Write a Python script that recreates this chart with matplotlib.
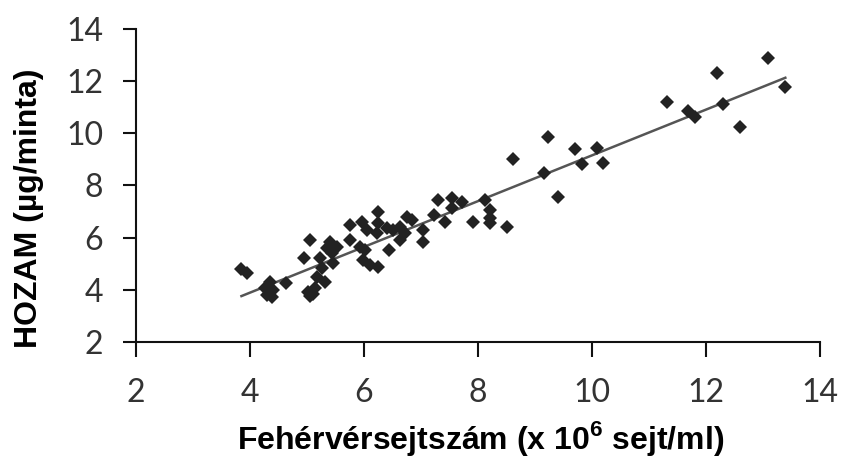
import matplotlib
matplotlib.use("Agg")
import matplotlib.pyplot as plt

plt.rcParams["mathtext.fontset"] = "custom"
plt.rcParams["mathtext.rm"] = "Liberation Sans:bold"
plt.rcParams["mathtext.bf"] = "Liberation Sans:bold"

# white cell count (x 10^6 / ml) vs. yield (ug / sample)
cells = [3.85, 3.95, 4.26, 4.35, 4.40, 4.38, 4.30, 4.64, 4.94, 5.05,
         5.02, 5.05, 5.11, 5.14, 5.17, 5.26, 5.23, 5.32, 5.35, 5.40,
         5.43, 5.46, 5.52, 5.75, 5.75, 5.96, 5.93, 6.05, 5.99, 6.11,
         6.25, 6.02, 6.25, 6.25, 6.22, 6.40, 6.51, 6.63, 6.43, 6.75,
         6.84, 6.72, 6.63, 7.04, 7.04, 7.22, 7.30, 7.42, 7.54, 7.54,
         7.71, 7.92, 8.12, 8.21, 8.21, 8.21, 8.50, 8.62, 9.15, 9.23,
         9.41, 9.70, 9.82, 10.08, 10.20, 11.31, 11.69, 11.81, 12.19, 12.30,
         12.60, 13.09, 13.39]
yields = [4.80, 4.65, 4.07, 4.30, 3.99, 3.73, 3.80, 4.26, 5.21, 5.91,
          3.92, 3.75, 3.85, 4.06, 4.50, 4.83, 5.21, 4.31, 5.59, 5.85,
          5.40, 5.02, 5.65, 6.49, 5.91, 6.61, 5.65, 6.29, 5.14, 4.95,
          4.89, 5.53, 7.00, 6.55, 6.17, 6.36, 6.29, 6.42, 5.53, 6.80,
          6.68, 6.17, 5.91, 6.29, 5.85, 6.87, 7.44, 6.61, 7.51, 7.13,
          7.38, 6.61, 7.44, 7.06, 6.74, 6.55, 6.40, 9.01, 8.47, 9.87,
          7.57, 9.39, 8.83, 9.43, 8.85, 11.21, 10.87, 10.61, 12.33, 11.13,
          10.26, 12.88, 11.77]

# fitted line end points
fit_x = [3.85, 13.39]
fit_y = [3.76, 12.13]

ticks = [2, 4, 6, 8, 10, 12, 14]

fig = plt.figure(figsize=(8.42, 4.58), dpi=100)
ax = fig.add_axes([0.1615, 0.2533, 0.8125, 0.6834])

ax.plot(fit_x, fit_y, color="#555555", lw=1.8, zorder=2)
ax.plot(cells, yields, "D", color="#222222", ms=7, mew=0, zorder=3)

ax.set_xlim(2, 14)
ax.set_ylim(2, 14)
ax.set_xticks(ticks)
ax.set_yticks(ticks)

for s in ["top", "right"]:
    ax.spines[s].set_visible(False)
for s in ["left", "bottom"]:
    ax.spines[s].set_linewidth(1.5)
    ax.spines[s].set_color("#111111")

ax.tick_params(axis="x", length=11, width=1.5, pad=15, colors="#111111")
ax.tick_params(axis="y", length=9.5, width=1.5, pad=14, colors="#111111")
for lab in ax.get_xticklabels() + ax.get_yticklabels():
    lab.set_family(["Lato", "DejaVu Sans"])
    lab.set_fontsize(23)
    lab.set_color("#333333")

# axis titles placed as in the original figure
fig.text(0.571, 0.02, "Fehérvérsejtszám (x 10$^{6}$ sejt/ml)", family="Liberation Sans",
         weight="bold", fontsize=23, ha="center", va="baseline")
fig.text(0.034, 0.545, "HOZAM (µg/minta)", family="Liberation Sans",
         weight="bold", fontsize=23, ha="center", va="center", rotation=90)

fig.savefig("out.png", dpi=100, facecolor="white")
